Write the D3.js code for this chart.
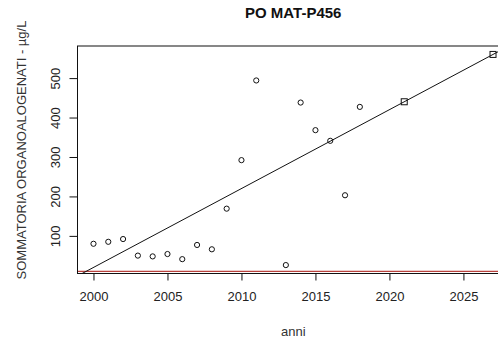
<!DOCTYPE html>
<html>
<head>
<meta charset="utf-8">
<script src="https://cdn.jsdelivr.net/npm/d3@7"></script>
<style>
  html, body { margin: 0; padding: 0; background: #fff; }
  svg { display: block; font-family: "Liberation Sans", Arial, sans-serif; }
</style>
</head>
<body>
<svg id="chart" width="498" height="340"></svg>
<script>
// Measured years and values (µg/L)
const years  = [2000, 2001, 2002, 2003, 2004, 2005, 2006, 2007, 2008, 2009, 2010, 2011, 2013, 2014, 2015, 2016, 2017, 2018];
const values = [80, 85, 92, 50, 48, 54, 41, 77, 66, 169, 292, 494, 26, 438, 368, 341, 203, 427];

// Linear trend (value = intercept + slope * (year - 2000)) and projected years
const trendIntercept = 20;
const trendSlope = 20;
const projYears = [2021, 2027];

// Threshold line (µg/L)
const threshold = 10;

const xTicks = [2000, 2005, 2010, 2015, 2020, 2025];
const yTicks = [100, 200, 300, 400, 500];

const title = "PO MAT-P456";
const xLabel = "anni";
const yLabel = "SOMMATORIA ORGANOALOGENATI - µg/L";

const trend = yr => trendIntercept + trendSlope * (yr - 2000);
const projValues = projYears.map(trend);

const svg = d3.select("#chart");
const plot = { left: 77.5, right: 509, top: 46, bottom: 273.5 };

// R-style 4% padding around the data range
const allX = years.concat(projYears);
const allY = values.concat(projValues);
const pad = (lo, hi) => { const e = (hi - lo) * 0.04; return [lo - e, hi + e]; };

const x = d3.scaleLinear().domain(pad(d3.min(allX), d3.max(allX))).range([plot.left, plot.right]);
const y = d3.scaleLinear().domain(pad(d3.min(allY), d3.max(allY))).range([plot.bottom, plot.top]);

svg.append("defs").append("clipPath").attr("id", "clip")
  .append("rect")
  .attr("x", plot.left).attr("y", plot.top)
  .attr("width", plot.right - plot.left).attr("height", plot.bottom - plot.top);

const g = svg.append("g").attr("clip-path", "url(#clip)");

// Threshold
g.append("line")
  .attr("x1", plot.left).attr("x2", plot.right)
  .attr("y1", y(threshold)).attr("y2", y(threshold))
  .attr("stroke", "#b8403c").attr("stroke-width", 1.2);

// Trend line across the plot
const [x0, x1] = x.domain();
g.append("line")
  .attr("x1", x(x0)).attr("y1", y(trend(x0)))
  .attr("x2", x(x1)).attr("y2", y(trend(x1)))
  .attr("stroke", "#111").attr("stroke-width", 1);

// Observations
g.selectAll("circle.obs").data(years).join("circle")
  .attr("class", "obs")
  .attr("cx", (d) => x(d))
  .attr("cy", (d, i) => y(values[i]))
  .attr("r", 2.6)
  .attr("fill", "none").attr("stroke", "#111").attr("stroke-width", 1);

// Projections
g.selectAll("rect.proj").data(projYears).join("rect")
  .attr("class", "proj")
  .attr("x", (d) => x(d) - 3)
  .attr("y", (d, i) => y(projValues[i]) - 3)
  .attr("width", 6).attr("height", 6)
  .attr("fill", "none").attr("stroke", "#111").attr("stroke-width", 1);

// Frame
svg.append("rect")
  .attr("x", plot.left).attr("y", plot.top)
  .attr("width", plot.right - plot.left).attr("height", plot.bottom - plot.top)
  .attr("fill", "none").attr("stroke", "#111").attr("stroke-width", 1);

// Axes
const xAxis = d3.axisBottom(x).tickValues(xTicks).tickSize(7).tickPadding(11).tickFormat(d3.format("d"));
const xg = svg.append("g").attr("transform", `translate(0,${plot.bottom})`).call(xAxis);
xg.select(".domain").remove();
xg.selectAll("line").attr("stroke", "#111");
xg.selectAll("text").attr("font-size", 13).attr("fill", "#222");

const yAxis = d3.axisLeft(y).tickValues(yTicks).tickSize(8).tickFormat(d3.format("d"));
const yg = svg.append("g").attr("transform", `translate(${plot.left},0)`).call(yAxis);
yg.select(".domain").remove();
yg.selectAll("line").attr("stroke", "#111");
yg.selectAll("text")
  .attr("font-size", 13).attr("fill", "#222")
  .attr("text-anchor", "middle")
  .attr("dy", null)
  .attr("x", null)
  .attr("transform", () => "translate(-18,0) rotate(-90)")
  .attr("y", 0);

// Titles
svg.append("text")
  .attr("x", (plot.left + plot.right) / 2).attr("y", 18)
  .attr("text-anchor", "middle").attr("font-size", 15).attr("font-weight", "bold")
  .attr("fill", "#111").text(title);

svg.append("text")
  .attr("x", (plot.left + plot.right) / 2).attr("y", 336)
  .attr("text-anchor", "middle").attr("font-size", 13)
  .attr("fill", "#333").text(xLabel);

svg.append("text")
  .attr("transform", "translate(26,150) rotate(-90)")
  .attr("text-anchor", "middle").attr("font-size", 13)
  .attr("fill", "#333").text(yLabel);
</script>
</body>
</html>
